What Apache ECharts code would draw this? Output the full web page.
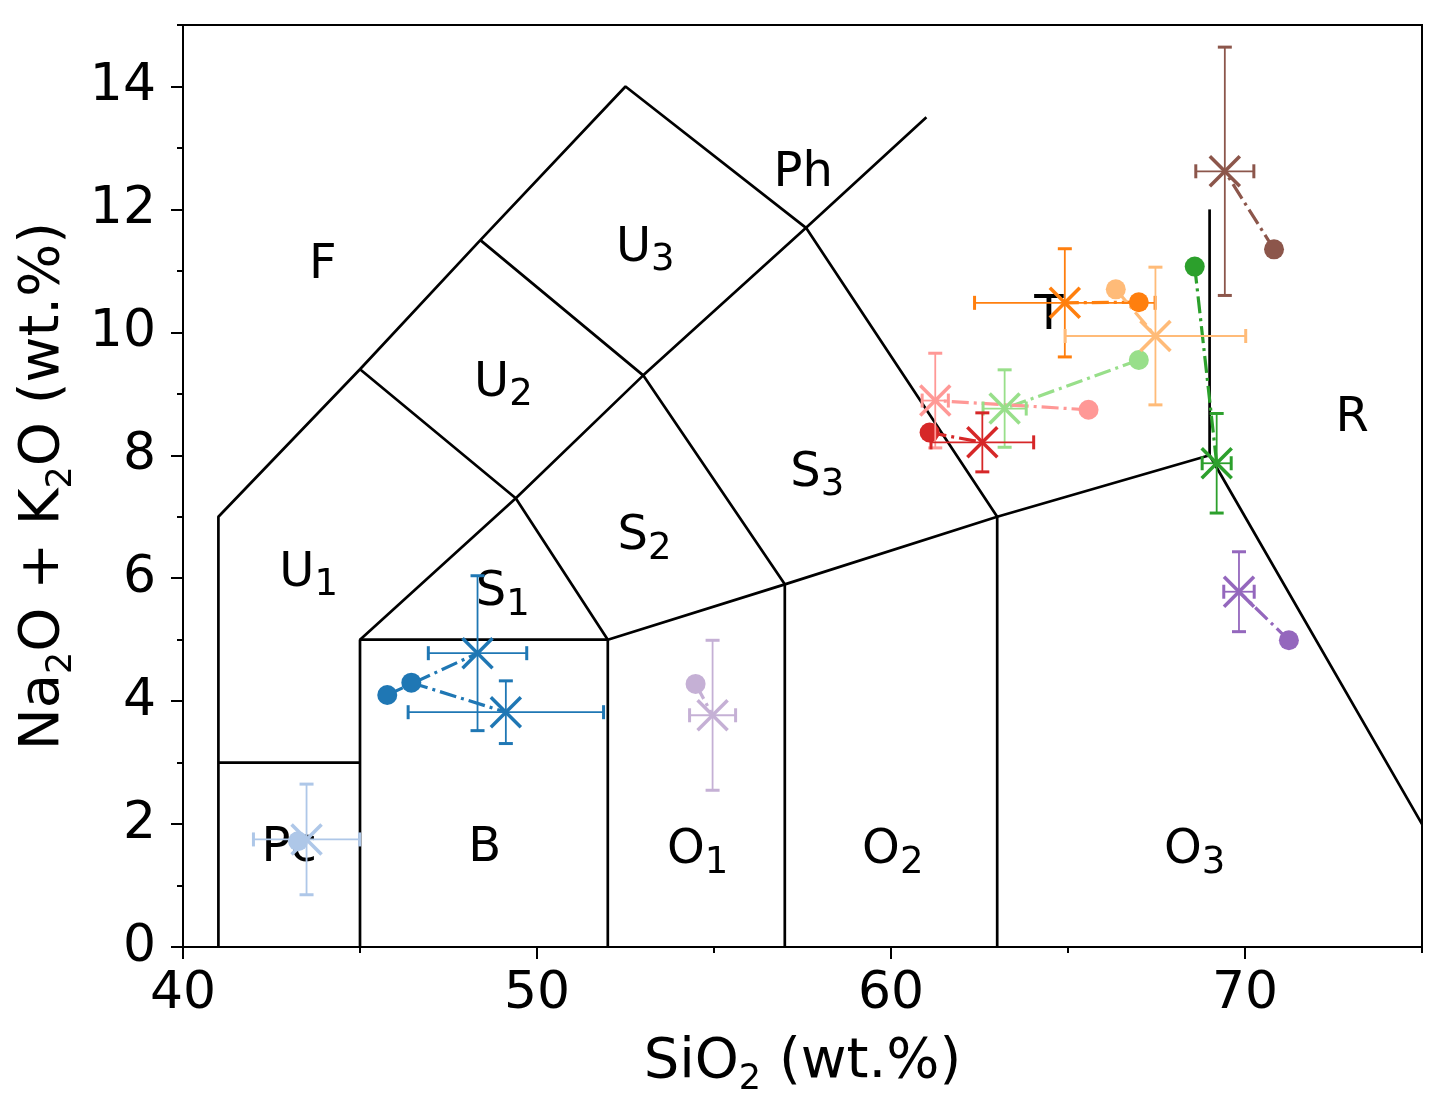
<!DOCTYPE html>
<html><head><meta charset="utf-8">
<script src="https://cdn.jsdelivr.net/npm/echarts@6/dist/echarts.min.js"></script>
<style>html,body{margin:0;padding:0;background:#fff}#c{width:1448px;height:1116px}</style>
</head><body><div id="c"></div>
<script>
// ---------------- data ----------------
const xTicks = [40, 50, 60, 70];
const yTicks = [0, 2, 4, 6, 8, 10, 12, 14];

// whole-rock points (circles)
const wholeSiO2 = [45.77, 46.45, 43.25, 67.00, 66.35, 68.58, 67.00, 65.58, 61.09, 70.82, 71.24, 54.48];
const wholeAlk  = [4.10, 4.30, 1.72, 10.49, 10.70, 11.07, 9.55, 8.74, 8.37, 11.35, 4.99, 4.28];
// mean points (x markers) with error half-widths
const meanSiO2  = [48.32, 49.12, 43.49, 64.91, 67.47, 69.20, 63.21, 61.25, 62.58, 69.43, 69.83, 54.96];
const meanAlk   = [4.78, 3.82, 1.75, 10.48, 9.94, 7.87, 8.76, 8.89, 8.21, 12.62, 5.78, 3.77];
const errSiO2   = [1.39, 2.76, 1.50, 2.55, 2.55, 0.41, 0.61, 0.37, 1.45, 0.82, 0.43, 0.65];
const errAlk    = [1.26, 0.51, 0.90, 0.88, 1.12, 0.81, 0.63, 0.77, 0.48, 2.02, 0.65, 1.22];

// TAS field boundaries (polylines in data units)
const boundaryA = [[41,0],[41,7],[45,9.4],[48.4,11.5],[52.5,14],[57.6,11.7],[63,7],[63,0]];
const boundaryB = [[41,3],[45,3]];
const boundaryC = [[45,0],[45,5],[52,5],[52,0]];
const boundaryD = [[45,9.4],[49.4,7.3],[52,5],[57,5.9],[63,7],[69,8],[75,2]];
const boundaryE = [[48.4,11.5],[53,9.3],[57,5.9],[57,0]];
const boundaryF = [[45,5],[49.4,7.3],[53,9.3],[57.6,11.7],[61,13.5]];
const boundaryG = [[69,8],[69,12]];

// field labels
const fieldName = ['F','U','Pc','B','S','U','U','S','S','Ph','T','R','O','O','O'];
const fieldSub  = ['','1','','','1','2','3','2','3','','','','1','2','3'];
const fieldX    = [43.95, 43.55, 43.0, 48.52, 49.03, 49.05, 53.06, 53.04, 57.92, 57.52, 64.46, 73.03, 54.54, 60.05, 68.58];
const fieldY    = [11.09, 6.08, 1.60, 1.60, 5.76, 9.17, 11.37, 6.68, 7.71, 12.59, 10.25, 8.60, 1.57, 1.57, 1.57];

// ---------------- styles ----------------
const palette = ['#1f77b4','#1f77b4','#aec7e8','#ff7f0e','#ffbb78','#2ca02c','#98df8a','#ff9896','#d62728','#8c564b','#9467bd','#c5b0d5'];
const FONT = 'DejaVu Sans';

const boundaries = [boundaryA, boundaryB, boundaryC, boundaryD, boundaryE, boundaryF, boundaryG];
const series = [];

boundaries.forEach(b => series.push({
  type: 'line', data: b, showSymbol: false, symbol: 'none', silent: true, z: 2,
  lineStyle: {color: '#000', width: 2.7}, clip: false
}));

series.push({
  type: 'scatter', z: 3, silent: true, symbolSize: 0,
  itemStyle: {opacity: 1},
  data: fieldX.map((x, i) => ({value: [x, fieldY[i]]})),
  label: {
    show: true, position: 'inside', color: '#000', opacity: 1, textBorderWidth: 0,
    formatter: p => '{m|' + fieldName[p.dataIndex] + '}' + (fieldSub[p.dataIndex] ? '{s|' + fieldSub[p.dataIndex] + '}' : ''),
    rich: {
      m: {fontFamily: FONT, fontSize: 48, color: '#000', lineHeight: 62, verticalAlign: 'middle'},
      s: {fontFamily: FONT, fontSize: 37, color: '#000', lineHeight: 42, verticalAlign: 'bottom'}
    }
  }
});

meanSiO2.forEach((mx, i) => series.push({
  type: 'line', z: 4, silent: true, showSymbol: false, symbol: 'none',
  data: [[wholeSiO2[i], wholeAlk[i]], [mx, meanAlk[i]]],
  lineStyle: {color: palette[i], width: 3.2, type: [17, 5, 3, 5]}
}));

series.push({
  type: 'scatter', z: 5, silent: true, symbol: 'circle', symbolSize: 20,
  data: wholeSiO2.map((x, i) => ({value: [x, wholeAlk[i]], itemStyle: {color: palette[i], opacity: 1}}))
});

series.push({
  type: 'custom', z: 6, silent: true,
  data: meanSiO2.map((x, i) => [x, meanAlk[i], errSiO2[i], errAlk[i]]),
  encode: {x: 0, y: 1},
  renderItem: (params, api) => {
    const x = api.value(0), y = api.value(1), ex = api.value(2), ey = api.value(3);
    const c = api.coord([x, y]);
    const l = api.coord([x - ex, y]), r = api.coord([x + ex, y]);
    const t = api.coord([x, y + ey]), b = api.coord([x, y - ey]);
    const col = palette[params.dataIndex];
    const cap = 7, m = 15;
    const thin = {stroke: col, lineWidth: 1.8};
    const capS = {stroke: col, lineWidth: 3};
    const mk = {stroke: col, lineWidth: 3.5};
    const ln = (x1, y1, x2, y2, st) => ({type: 'line', shape: {x1, y1, x2, y2}, style: st});
    return {type: 'group', children: [
      ln(l[0], l[1], r[0], r[1], thin),
      ln(t[0], t[1], b[0], b[1], thin),
      ln(l[0], l[1] - cap, l[0], l[1] + cap, capS),
      ln(r[0], r[1] - cap, r[0], r[1] + cap, capS),
      ln(t[0] - cap, t[1], t[0] + cap, t[1], capS),
      ln(b[0] - cap, b[1], b[0] + cap, b[1], capS),
      ln(c[0] - m, c[1] - m, c[0] + m, c[1] + m, mk),
      ln(c[0] - m, c[1] + m, c[0] + m, c[1] - m, mk)
    ]};
  }
});

const tickFont = {fontFamily: FONT, fontSize: 52, color: '#000'};
const axisLine = {show: true, lineStyle: {color: '#000', width: 2}};
const nameRich = {
  n: {fontFamily: FONT, fontSize: 56, color: '#000', lineHeight: 70, verticalAlign: 'middle'},
  s: {fontFamily: FONT, fontSize: 35, color: '#000', lineHeight: 41, verticalAlign: 'bottom'}
};

const option = {
  animation: false,
  backgroundColor: '#fff',
  grid: {left: 183, right: 26, top: 25, bottom: 169, show: true, borderColor: '#000', borderWidth: 2, backgroundColor: 'transparent'},
  xAxis: [
    {
      type: 'value', min: 40, max: 75, position: 'bottom',
      axisLine, splitLine: {show: false},
      axisTick: {show: true, length: 12, lineStyle: {color: '#000', width: 2}, customValues: xTicks},
      axisLabel: Object.assign({margin: 21, customValues: xTicks}, tickFont),
      name: '{n|SiO}{s|2}{n| (wt.%)}', nameLocation: 'middle', nameGap: 80,
      nameTextStyle: {rich: nameRich}
    },
    {
      type: 'value', min: 40, max: 75, interval: 5, position: 'bottom',
      axisLine: {show: false}, splitLine: {show: false}, axisLabel: {show: false},
      axisTick: {show: true, length: 6, lineStyle: {color: '#000', width: 2}}
    }
  ],
  yAxis: [
    {
      type: 'value', min: 0, max: 15, position: 'left',
      axisLine, splitLine: {show: false},
      axisTick: {show: true, length: 12, lineStyle: {color: '#000', width: 2}, customValues: yTicks},
      axisLabel: Object.assign({margin: 27, customValues: yTicks}, tickFont),
      name: '{n|Na}{s|2}{n|O + K}{s|2}{n|O (wt.%)}', nameLocation: 'middle', nameGap: 75,
      nameTextStyle: {rich: nameRich}
    },
    {
      type: 'value', min: 0, max: 15, interval: 1, position: 'left',
      axisLine: {show: false}, splitLine: {show: false}, axisLabel: {show: false},
      axisTick: {show: true, length: 6, lineStyle: {color: '#000', width: 2}}
    }
  ],
  series
};

const chart = echarts.init(document.getElementById('c'), null, {renderer: 'canvas'});
chart.setOption(option);
</script>
</body></html>
